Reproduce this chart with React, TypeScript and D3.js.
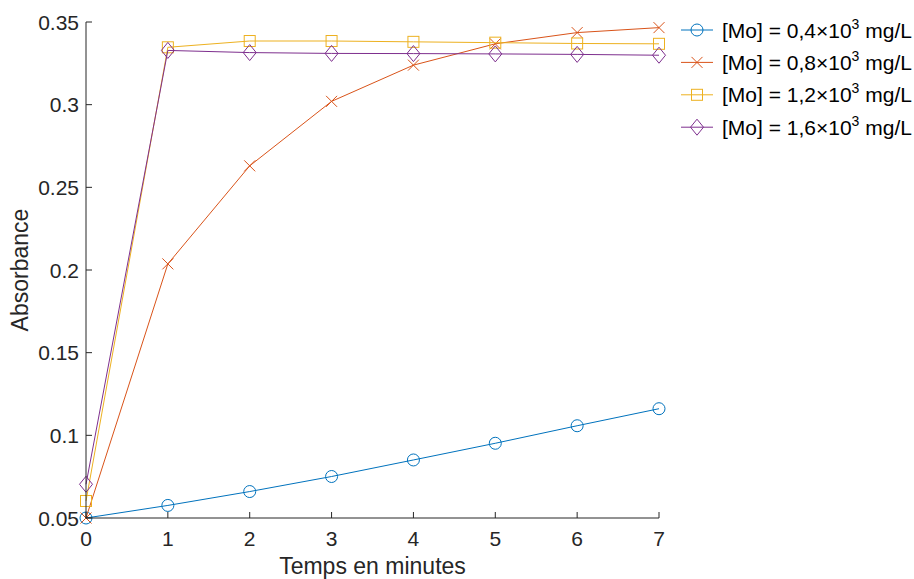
import React from "react";
import * as d3 from "d3";

const times = [0, 1, 2, 3, 4, 5, 6, 7];
const seriesLabels = ["0,4", "0,8", "1,2", "1,6"];
const s04 = [0.05, 0.0576, 0.066, 0.0751, 0.0851, 0.0952, 0.1058, 0.1161];
const s08 = [0.05, 0.2037, 0.263, 0.302, 0.3239, 0.3368, 0.3436, 0.3466];
const s12 = [0.0603, 0.3347, 0.3385, 0.3385, 0.338, 0.3375, 0.337, 0.3368];
const s16 = [0.0704, 0.3328, 0.3315, 0.331, 0.3309, 0.3307, 0.3304, 0.3299];
const xTicks = [0, 1, 2, 3, 4, 5, 6, 7];
const yTicks = [0.05, 0.1, 0.15, 0.2, 0.25, 0.3, 0.35];
const yTickLabels = ["0.05", "0.1", "0.15", "0.2", "0.25", "0.3", "0.35"];
const colors = ["#0072BD", "#D95319", "#EDB120", "#7E2F8E"];
const markers = ["circle", "x", "square", "diamond"];

const W = 914;
const H = 579;
const L = 86, R = 659, T = 22, B = 518;
const FONT = "'Liberation Sans', Arial, Helvetica, sans-serif";

function Marker({ type, x, y, color }: { type: string; x: number; y: number; color: string }) {
  if (type === "circle") return <circle cx={x} cy={y} r={6} fill="none" stroke={color} strokeWidth={1} />;
  if (type === "x") {
    const s = 5.5;
    return (
      <path d={`M${x - s},${y - s}L${x + s},${y + s}M${x - s},${y + s}L${x + s},${y - s}`} stroke={color} strokeWidth={1} fill="none" />
    );
  }
  if (type === "square") return <rect x={x - 5.5} y={y - 5.5} width={11} height={11} fill="none" stroke={color} strokeWidth={1} />;
  const w = 6.5, h = 8;
  return <path d={`M${x},${y - h}L${x + w},${y}L${x},${y + h}L${x - w},${y}Z`} fill="none" stroke={color} strokeWidth={1} />;
}

export default function App() {
  const x = d3.scaleLinear().domain([0, 7]).range([L, R]);
  const y = d3.scaleLinear().domain([0.05, 0.35]).range([B, T]);
  const all = [s04, s08, s12, s16];
  const line = d3.line<number>().x((_, i) => x(times[i])).y((d) => y(d));
  return (
    <svg width={W} height={H} style={{ position: "absolute", left: 0, top: 0, background: "#fff" }} fontFamily={FONT}>
      <rect width={W} height={H} fill="#fff" />
      {all.map((s, k) => (
        <g key={k}>
          <path d={line(s) || ""} fill="none" stroke={colors[k]} strokeWidth={1} />
          {s.map((v, i) => (
            <Marker key={i} type={markers[k]} x={x(times[i])} y={y(v)} color={colors[k]} />
          ))}
        </g>
      ))}
      <line x1={L} x2={L} y1={T} y2={B} stroke="#262626" strokeWidth={1} />
      <line x1={L} x2={R} y1={B} y2={B} stroke="#262626" strokeWidth={1} />
      {xTicks.map((t) => (
        <g key={t}>
          <line x1={x(t)} x2={x(t)} y1={B} y2={B - 6} stroke="#262626" />
          <text x={x(t)} y={B + 28} textAnchor="middle" fontSize={21} fill="#262626">{t}</text>
        </g>
      ))}
      {yTicks.map((t, i) => (
        <g key={t}>
          <line x1={L} x2={L + 6} y1={y(t)} y2={y(t)} stroke="#262626" />
          <text x={L - 7} y={y(t) + 7.5} textAnchor="end" fontSize={21} fill="#262626">{yTickLabels[i]}</text>
        </g>
      ))}
      <text x={(L + R) / 2} y={574} textAnchor="middle" fontSize={23} fill="#262626">Temps en minutes</text>
      <text transform={`translate(28,${(T + B) / 2}) rotate(-90)`} textAnchor="middle" fontSize={23} fill="#262626">Absorbance</text>
      {seriesLabels.map((lab, k) => {
        const ly = 30 + k * 32.4;
        return (
          <g key={k}>
            <line x1={681} x2={713} y1={ly} y2={ly} stroke={colors[k]} strokeWidth={1} />
            <Marker type={markers[k]} x={697} y={ly} color={colors[k]} />
            <text x={722} y={ly + 7.5} fontSize={21} fill="#000">
              {`[Mo] = ${lab}×10`}
              <tspan dy={-9} fontSize={14}>3</tspan>
              <tspan dy={9}>{" mg/L"}</tspan>
            </text>
          </g>
        );
      })}
    </svg>
  );
}
